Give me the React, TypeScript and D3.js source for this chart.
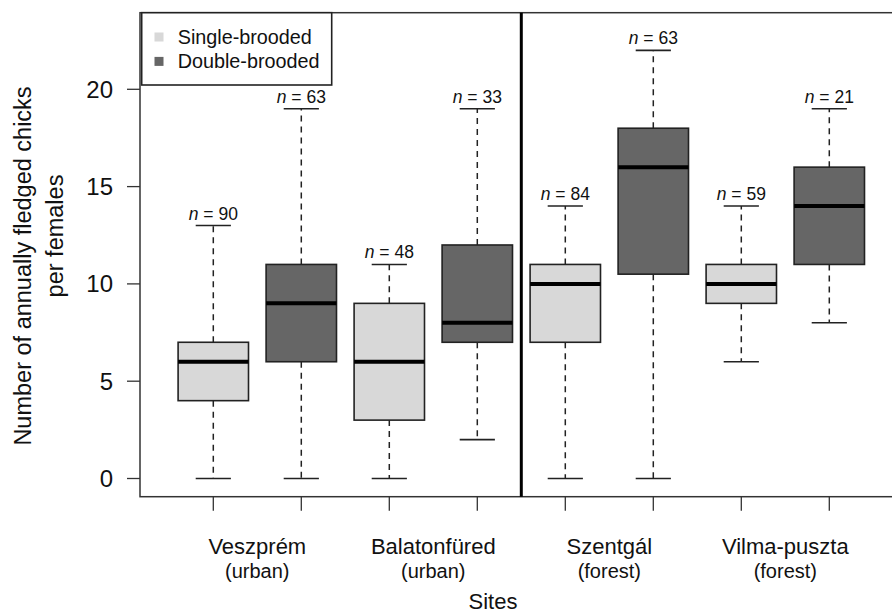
import * as d3 from 'd3';

// per box: Veszprém S/D, Balatonfüred S/D, Szentgál S/D, Vilma-puszta S/D
const brood = ['single', 'double', 'single', 'double', 'single', 'double', 'single', 'double'];
const whiskerLow = [0, 0, 0, 2, 0, 0, 6, 8];
const q1 = [4, 6, 3, 7, 7, 10.5, 9, 11];
const median = [6, 9, 6, 8, 10, 16, 10, 14];
const q3 = [7, 11, 9, 12, 11, 18, 11, 16];
const whiskerHigh = [13, 19, 11, 19, 14, 22, 14, 19];
const nCounts = [90, 63, 48, 33, 84, 63, 59, 21];

const sites = ['Veszprém', 'Balatonfüred', 'Szentgál', 'Vilma-puszta'];
const habitats = ['(urban)', '(urban)', '(forest)', '(forest)'];
const yTicks = [0, 5, 10, 15, 20];
const legendLabels = ['Single-brooded', 'Double-brooded'];

const W = 892;
const H = 614;
const left = 140;
const top = 12.7;
const bottom = 496.7;
const font = '"Liberation Sans", Arial, Helvetica, sans-serif';
const fills: Record<string, string> = { single: '#d8d8d8', double: '#666666' };

export default function App() {
  const x = d3.scaleLinear().domain([1 - 73.3 / 88, 8 + 73.3 / 88]).range([left, 902.6]);
  const y = d3.scaleLinear().domain([0, 20]).range([478.5, 89.3]);
  const bw = x(1.4) - x(0.6);
  const capW = bw / 2;
  const right = x.range()[1];
  const divider = x(4.5);

  return (
    <svg width={W} height={H} style={{ position: 'absolute', left: 0, top: 0, fontFamily: font }}>
      <rect width={W} height={H} fill="#fff" />

      {/* boxes */}
      {median.map((m, i) => {
        const cx = x(i + 1);
        return (
          <g key={i}>
            <line x1={cx} x2={cx} y1={y(q3[i])} y2={y(whiskerHigh[i])} stroke="#222" strokeWidth={1.5} strokeDasharray="6,5" />
            <line x1={cx} x2={cx} y1={y(q1[i])} y2={y(whiskerLow[i])} stroke="#222" strokeWidth={1.5} strokeDasharray="6,5" />
            <line x1={cx - capW / 2} x2={cx + capW / 2} y1={y(whiskerHigh[i])} y2={y(whiskerHigh[i])} stroke="#222" strokeWidth={1.6} />
            <line x1={cx - capW / 2} x2={cx + capW / 2} y1={y(whiskerLow[i])} y2={y(whiskerLow[i])} stroke="#222" strokeWidth={1.6} />
            <rect x={cx - bw / 2} y={y(q3[i])} width={bw} height={y(q1[i]) - y(q3[i])}
              fill={fills[brood[i]]} stroke="#222" strokeWidth={1.6} />
            <line x1={cx - bw / 2} x2={cx + bw / 2} y1={y(m)} y2={y(m)} stroke="#000" strokeWidth={4} />
            <text x={cx} y={y(whiskerHigh[i]) - 6} textAnchor="middle" fontSize={17.5} fill="#111">
              <tspan fontStyle="italic">n</tspan>
              <tspan> = {nCounts[i]}</tspan>
            </text>
          </g>
        );
      })}

      {/* frame */}
      <rect x={left} y={top} width={right - left} height={bottom - top} fill="none" stroke="#333" strokeWidth={1.5} />
      <line x1={divider} x2={divider} y1={top} y2={bottom} stroke="#000" strokeWidth={3} />

      {/* y axis */}
      {yTicks.map((t) => (
        <g key={t}>
          <line x1={left - 13} x2={left} y1={y(t)} y2={y(t)} stroke="#333" strokeWidth={1.3} />
          <text x={113} y={y(t)} dy="0.35em" textAnchor="end" fontSize={24} fill="#111">{t}</text>
        </g>
      ))}
      <text transform="translate(31,266) rotate(-90)" textAnchor="middle" fontSize={23.5} fill="#111">
        Number of annually fledged chicks
      </text>
      <text transform="translate(63,236) rotate(-90)" textAnchor="middle" fontSize={23.5} fill="#111">
        per females
      </text>

      {/* x axis */}
      {median.map((_, i) => (
        <line key={i} x1={x(i + 1)} x2={x(i + 1)} y1={bottom} y2={510.7} stroke="#333" strokeWidth={1.3} />
      ))}
      {sites.map((s, k) => {
        const cx = (x(2 * k + 1) + x(2 * k + 2)) / 2;
        return (
          <g key={s}>
            <text x={cx} y={554.3} textAnchor="middle" fontSize={22} fill="#111">{s}</text>
            <text x={cx} y={577.5} textAnchor="middle" fontSize={20} fill="#111">{habitats[k]}</text>
          </g>
        );
      })}
      <text x={493} y={608.5} textAnchor="middle" fontSize={22} fill="#111">Sites</text>

      {/* legend */}
      <rect x={141.7} y={top} width={190} height={85 - top} fill="#fff" stroke="#222" strokeWidth={1.6} />
      {legendLabels.map((l, i) => (
        <g key={l}>
          <rect x={154.5} y={32.5 + i * 24.4} width={9} height={9} fill={i === 0 ? fills.single : fills.double} />
          <text x={177.7} y={37 + i * 24.4} dy="0.35em" fontSize={19.8} fill="#111">{l}</text>
        </g>
      ))}
    </svg>
  );
}
